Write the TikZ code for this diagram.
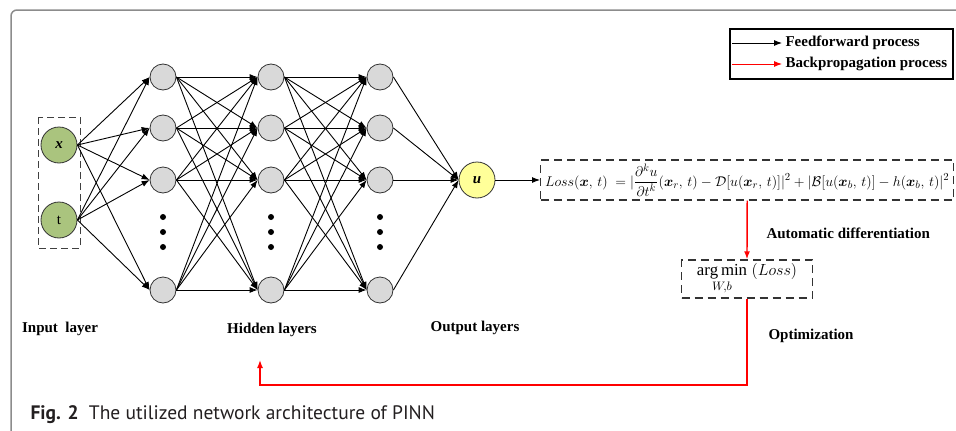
\documentclass[tikz,border=0pt]{standalone}
\usepackage{amsmath}
\usepackage{graphicx}
\usepackage{fontspec}
\setmainfont{Liberation Serif}
\newfontfamily\capfont{PT Sans}
\usetikzlibrary{arrows.meta,positioning,calc}
\definecolor{leaf}{HTML}{AAC47E}
\definecolor{lemon}{HTML}{FFFF99}
\definecolor{ash}{HTML}{D9D9D9}
\definecolor{rim}{HTML}{8C8C8C}
\definecolor{backred}{HTML}{FF0000}
\definecolor{ink}{HTML}{231F20}

\begin{document}
\begin{tikzpicture}[x=1pt,y=-1pt,font=\fontsize{15}{17}\selectfont\bfseries,
  neuron/.style={circle,draw=black!80,line width=0.8pt,fill=ash,minimum size=26pt,inner sep=0pt},
  io/.style={circle,draw=black!80,line width=0.8pt,minimum size=36pt,inner sep=0pt},
  ff/.style={-{Latex[length=8pt,width=6pt]},line width=0.9pt},
  bp/.style={-{Latex[length=8pt,width=6pt]},line width=1.4pt,backred},
  dashbox/.style={draw=black!80,line width=1.4pt,dash pattern=on 8pt off 5pt}]
  \useasboundingbox (0,0) rectangle (956,431);
  \draw[rim,line width=1.5pt,rounded corners=6pt] (11,431) -- (11,10) -- (956,10);

  % input and output
  \node[io,fill=leaf] (x) at (59,145) {\textit{x}};
  \node[io,fill=leaf,font=\fontsize{15}{17}\selectfont] (t) at (59,220) {t};
  \draw[draw=black!75,line width=1pt,dash pattern=on 7pt off 4pt] (38,117) rectangle (80,248);
  \node[io,fill=lemon] (u) at (477,180) {\textit{u}};

  % hidden layers
  \foreach \col/\xx in {1/163,2/271,3/380}{
    \foreach \row/\yy in {1/77,2/128,3/180,4/290}
      \node[neuron] (h\col\row) at (\xx,\yy) {};
    \foreach \yy in {217,232,247}
      \fill (\xx,\yy) circle (3pt);
  }

  \foreach \src in {x,t}
    \foreach \row in {1,...,4}
      \draw[ff] (\src.east) -- (h1\row.west);
  \foreach \col/\nxt in {1/2,2/3}
    \foreach \a in {1,...,4}
      \foreach \b in {1,...,4}
        \draw[ff] (h\col\a.east) -- (h\nxt\b.west);
  \foreach \row in {1,...,4}
    \draw[ff] (h3\row.east) -- (u.west);

  % loss and optimizer
  \node[dashbox,minimum width=413pt,minimum height=40pt,inner sep=0pt,anchor=west] (loss) at (540,180)
       {\resizebox{404pt}{!}{$Loss(\boldsymbol{x},\,t)\ =|\dfrac{\partial^k u}{\partial t^k}(\boldsymbol{x}_r,\,t)-\mathcal{D}[u(\boldsymbol{x}_r,\,t)]|^2+|\mathcal{B}[u(\boldsymbol{x}_b,\,t)]-h(\boldsymbol{x}_b,\,t)|^2$}};
  \node[dashbox,minimum width=131pt,minimum height=38pt,inner sep=0pt] (opt) at (747,279)
       {\scalebox{1.12}{$\underset{W,b}{\arg\min}\;(Loss)$}};
  \draw[ff] (u.east) -- (loss.west);
  \draw[bp] (loss.south) -- (opt.north);

  % labels
  \node (inlab) at (60,329) {Input\ \ layer};
  \node (hidlab) at (272,330) {Hidden layers};
  \node (outlab) at (475,328) {Output layers};
  \node[anchor=west] (adlab) at (763,233) {Automatic differentiation};
  \node[anchor=west] (optlab) at (765,336) {Optimization};

  \coordinate (turn) at (260,385);
  \coordinate (back) at (260,360);
  \draw[bp] (opt.south) |- (turn) -- (back);

  % legend
  \draw[line width=1.2pt] (730,29) rectangle (953,79);
  \node[anchor=west] (fflab) at (782,43) {Feedforward process};
  \node[anchor=west] (bplab) at (782,64) {Backpropagation process};
  \coordinate (ffstart) at (732,43);
  \coordinate (bpstart) at (732,64);
  \draw[ff] (ffstart) -- (fflab.west);
  \draw[bp,line width=0.9pt] (bpstart) -- (bplab.west);

  \node[anchor=base west,text=ink,font=\capfont\fontsize{19.5}{22}\selectfont] (cap) at (27,419)
       {\textbf{Fig. 2}\ \ The utilized network architecture of PINN};
\end{tikzpicture}
\end{document}
